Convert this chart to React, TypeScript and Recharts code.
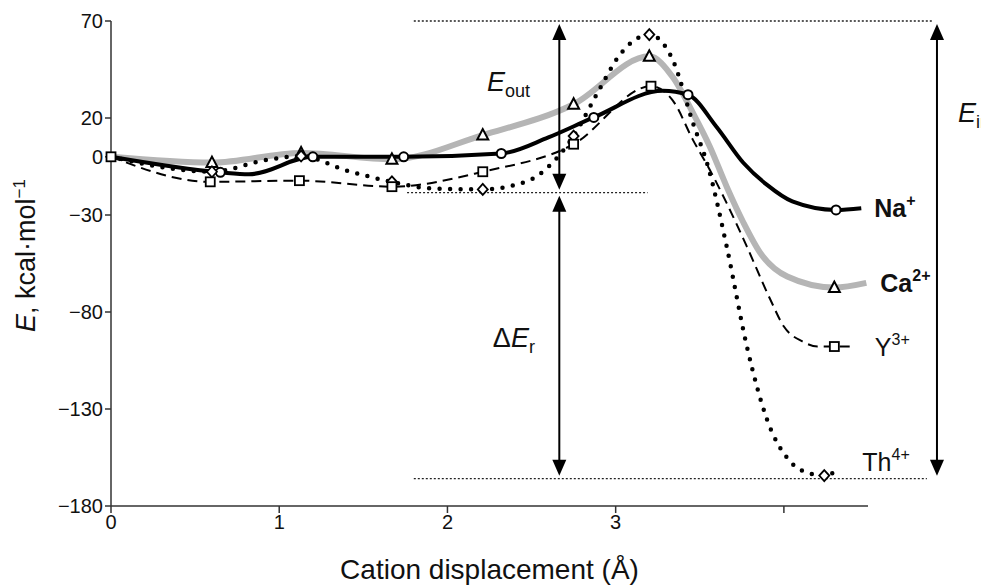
import { LineChart, Line, XAxis, YAxis, ReferenceLine, ReferenceDot } from 'recharts';

// cation displacement (Å) and energy (kcal/mol)
const naX = [0, 0.65, 0.82, 1.2, 1.74, 2.32, 2.6, 2.87, 3.28, 3.43, 3.6, 3.76, 3.9, 4.05, 4.31, 4.46];
const naE = [0, -8, -9, 0, 0, 1.7, 10, 20.3, 34, 32, 15.4, -3.2, -14.5, -23, -27.4, -26.5];
const naMarkX = [0.65, 1.2, 1.74, 2.32, 2.87, 3.43, 4.31];

const caX = [0, 0.6, 1.13, 1.67, 2.21, 2.75, 3.2, 3.34, 3.46, 3.56, 3.66, 3.76, 3.86, 4.02, 4.3, 4.49];
const caE = [0, -3, 2, -1.3, 11.2, 27.1, 51.8, 41, 22.5, 5.2, -15.4, -34, -49.6, -61.7, -67.4, -65];
const caMarkX = [0.6, 1.13, 1.67, 2.21, 2.75, 3.2, 4.3];

const yX = [0, 0.59, 1.12, 1.67, 2.21, 2.75, 3.21, 3.34, 3.46, 3.56, 3.66, 3.78, 3.92, 4.0, 4.11, 4.2, 4.3, 4.41];
const yE = [0, -12.9, -12.3, -15.4, -7.7, 6.5, 36.4, 29, 8.6, -6.8, -23.9, -46.3, -73.7, -87.5, -95.2, -97.8, -97.8, -97.8];
const yMarkX = [0, 0.59, 1.12, 1.67, 2.21, 2.75, 3.21, 4.3];

const thX = [0, 0.6, 0.92, 1.13, 1.39, 1.67, 1.9, 2.21, 2.49, 2.61, 2.75, 2.89, 3.03, 3.2, 3.34, 3.46, 3.55, 3.66, 3.78, 3.9, 4.04, 4.16, 4.24, 4.3];
const thE = [0, -7.7, -1.7, 0.4, -6.8, -12.9, -16.3, -16.8, -12, -4.3, 10.7, 32.6, 53.2, 63, 49.8, 17.3, -5.3, -46.3, -97.8, -135.5, -157.3, -163.3, -164.3, -162.6];
const thMarkX = [0.6, 1.13, 1.67, 2.21, 2.75, 3.2, 4.24];

const xTicks = [0, 1, 2, 3, 4];
const yTicks = [70, 20, 0, -30, -80, -130, -180];

// energy levels used by the E_out / E_in / ΔE_r annotation
const levelTop = 70;
const levelMid = -18.5;
const levelBottom = -165.9;

const FONT = '"Liberation Sans", Arial, sans-serif';

const toPoints = (xs: number[], es: number[], marks: number[]) =>
  xs.map((x, i) => ({ x, e: es[i], mark: marks.includes(x) }));

const naData = toPoints(naX, naE, naMarkX);
const caData = toPoints(caX, caE, caMarkX);
const yData = toPoints(yX, yE, yMarkX);
const thData = toPoints(thX, thE, thMarkX);

const makeDot = (kind: string) => (p: any) => {
  const { cx, cy, payload, index } = p;
  if (!payload || !payload.mark || cx == null) return <g key={`d-${kind}-${index}`} />;
  const k = `d-${kind}-${index}`;
  if (kind === 'circle')
    return <circle key={k} cx={cx} cy={cy} r={4.5} fill="#fff" stroke="#000" strokeWidth={2} />;
  if (kind === 'triangle')
    return (
      <polygon key={k} points={`${cx},${cy - 6} ${cx - 5.5},${cy + 4.5} ${cx + 5.5},${cy + 4.5}`}
        fill="#fff" stroke="#000" strokeWidth={2} />
    );
  if (kind === 'square')
    return <rect key={k} x={cx - 4.5} y={cy - 4.5} width={9} height={9} fill="#fff" stroke="#000" strokeWidth={1.8} />;
  return (
    <polygon key={k} points={`${cx},${cy - 5.5} ${cx + 5},${cy} ${cx},${cy + 5.5} ${cx - 5},${cy}`}
      fill="#fff" stroke="#000" strokeWidth={1.8} />
  );
};

const Arrow = (p: any) => {
  const { x1, y1, y2 } = p;
  const top = Math.min(y1, y2) + 3;
  const bottom = Math.max(y1, y2) - 3;
  const h = 16;
  const w = 7;
  return (
    <g>
      <line x1={x1} y1={top + h - 2} x2={x1} y2={bottom - h + 2} stroke="#000" strokeWidth={2} />
      <polygon points={`${x1},${top} ${x1 - w},${top + h} ${x1 + w},${top + h}`} fill="#000" />
      <polygon points={`${x1},${bottom} ${x1 - w},${bottom - h} ${x1 + w},${bottom - h}`} fill="#000" />
    </g>
  );
};

const energyText = (prefix: string, sub: string) => (p: any) => (
  <text x={p.cx} y={p.cy} fontFamily={FONT} fill="#111">
    {prefix && <tspan fontSize={27}>{prefix}</tspan>}
    <tspan fontSize={27} fontStyle="italic">E</tspan>
    <tspan fontSize={18} dy={6}>{sub}</tspan>
  </text>
);

const ionText = (name: string, sup: string, dx: number, dy: number, bold: boolean) => (p: any) => (
  <text x={p.cx + dx} y={p.cy + dy} fontFamily={FONT} fontSize={25} fontWeight={bold ? 700 : 400} fill="#111">
    {name}
    <tspan fontSize={16} dy={-11}>{sup}</tspan>
  </text>
);

const last = (a: number[]) => a[a.length - 1];

const YTitle = (p: any) => {
  const vb = p.viewBox;
  const cx = vb.x - 16;
  const cy = vb.y + vb.height / 2 - 8;
  return (
    <text x={cx} y={cy} transform={`rotate(-90 ${cx} ${cy})`} textAnchor="middle" fontFamily={FONT} fontSize={27} fill="#111">
      <tspan fontStyle="italic">E</tspan>, kcal·mol
      <tspan fontSize={17} dy={-10}>−1</tspan>
    </text>
  );
};

const fmtY = (v: number) => (v < 0 ? `−${-v}` : String(v));

export default function App() {
  return (
    <LineChart width={981} height={578} margin={{ top: 13, right: 121, bottom: 10, left: 43 }}>
      <XAxis
        type="number"
        dataKey="x"
        domain={[0, 4.5]}
        ticks={xTicks}
        interval={0}
        tickFormatter={(v: number) => (v === 4 ? '' : String(v))}
        stroke="#333"
        strokeWidth={1.5}
        tickSize={7}
        tick={{ fill: '#111', fontSize: 20, fontFamily: FONT }}
        height={70}
        label={{ value: 'Cation displacement (Å)', position: 'insideBottom', offset: -3, fill: '#111', fontSize: 28, fontFamily: FONT }}
      />
      <YAxis
        type="number"
        dataKey="e"
        domain={[-180, 70]}
        ticks={yTicks}
        interval={0}
        tickFormatter={fmtY}
        stroke="#333"
        strokeWidth={1.5}
        tickSize={6}
        tick={{ fill: '#111', fontSize: 20, fontFamily: FONT }}
        width={60}
        label={{ content: YTitle }}
      />

      <ReferenceLine segment={[{ x: 1.8, y: levelTop }, { x: 4.887, y: levelTop }]} stroke="#222" strokeWidth={1.3} strokeDasharray="2 2" ifOverflow="visible" />
      <ReferenceLine segment={[{ x: 1.76, y: levelMid }, { x: 3.19, y: levelMid }]} stroke="#222" strokeWidth={1.3} strokeDasharray="2 2" ifOverflow="visible" />
      <ReferenceLine segment={[{ x: 1.8, y: levelBottom }, { x: 4.85, y: levelBottom }]} stroke="#222" strokeWidth={1.3} strokeDasharray="2 2" ifOverflow="visible" />

      <Line data={caData} dataKey="e" type="monotone" stroke="#b5b5b5" strokeWidth={6} dot={makeDot('triangle')} activeDot={false} isAnimationActive={false} />
      <Line data={naData} dataKey="e" type="monotone" stroke="#000" strokeWidth={4} dot={makeDot('circle')} activeDot={false} isAnimationActive={false} />
      <Line data={thData} dataKey="e" type="monotone" stroke="#000" strokeWidth={4.5} strokeDasharray="0 10.5" strokeLinecap="round" dot={makeDot('diamond')} activeDot={false} isAnimationActive={false} />
      <Line data={yData} dataKey="e" type="monotone" stroke="#000" strokeWidth={2} strokeDasharray="10 6" dot={makeDot('square')} activeDot={false} isAnimationActive={false} />

      <ReferenceLine segment={[{ x: 2.665, y: levelTop }, { x: 2.665, y: levelMid }]} ifOverflow="visible" shape={Arrow} />
      <ReferenceLine segment={[{ x: 2.665, y: levelMid }, { x: 2.665, y: levelBottom }]} ifOverflow="visible" shape={Arrow} />
      <ReferenceLine segment={[{ x: 4.91, y: levelTop }, { x: 4.91, y: levelBottom }]} ifOverflow="visible" shape={Arrow} />

      <ReferenceDot x={2.235} y={34} ifOverflow="visible" shape={energyText('', 'out')} />
      <ReferenceDot x={2.27} y={-97.9} ifOverflow="visible" shape={energyText('Δ', 'r')} />
      <ReferenceDot x={5.035} y={17.9} ifOverflow="visible" shape={energyText('', 'in')} />

      <ReferenceDot x={last(naX)} y={last(naE)} ifOverflow="visible" shape={ionText('Na', '+', 13, 9, true)} />
      <ReferenceDot x={last(caX)} y={last(caE)} ifOverflow="visible" shape={ionText('Ca', '2+', 14, 9, true)} />
      <ReferenceDot x={last(yX)} y={last(yE)} ifOverflow="visible" shape={ionText('Y', '3+', 22, 9, false)} />
      <ReferenceDot x={last(thX)} y={last(thE)} ifOverflow="visible" shape={ionText('Th', '4+', 28, -1, false)} />
    </LineChart>
  );
}
